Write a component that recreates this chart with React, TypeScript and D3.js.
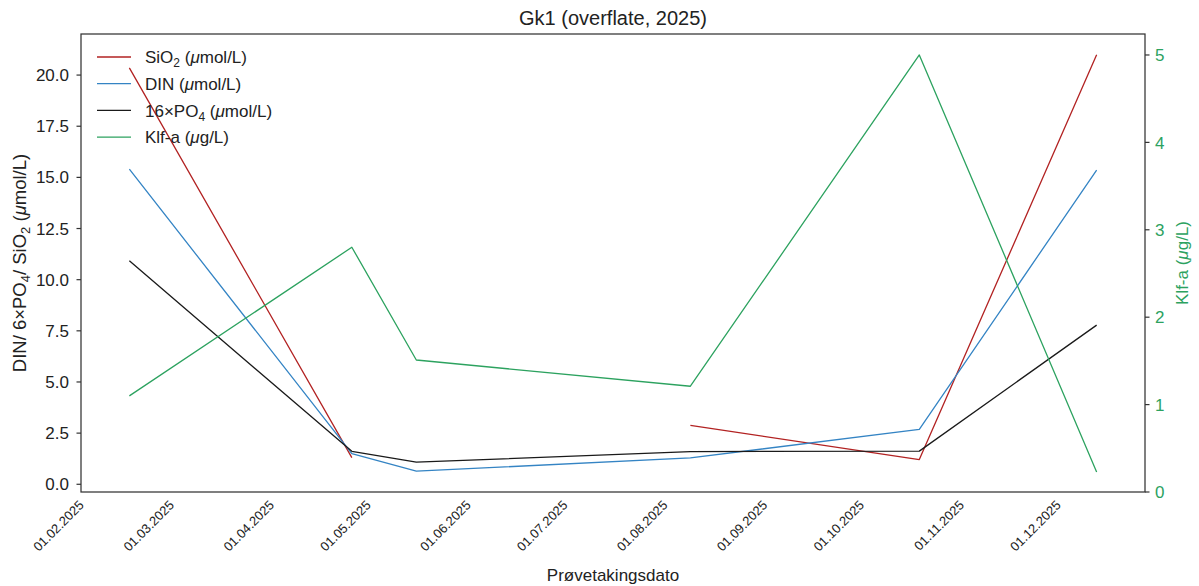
import React from "react";
import * as d3 from "d3";

const dates = ["2025-02-13", "2025-04-23", "2025-05-13", "2025-08-06", "2025-10-16", "2025-12-10"];
const sio2: (number | null)[] = [20.35, 1.3, null, 2.88, 1.21, 20.99];
const din: number[] = [15.4, 1.5, 0.64, 1.29, 2.68, 15.36];
const po4x16: number[] = [10.92, 1.61, 1.08, 1.6, 1.62, 7.78];
const klfa: number[] = [1.1, 2.8, 1.51, 1.21, 5.0, 0.23];
const leftTicks = [0, 2.5, 5, 7.5, 10, 12.5, 15, 17.5, 20];
const rightTicks = [0, 1, 2, 3, 4, 5];
const xTickDates = ["2025-02-01", "2025-03-01", "2025-04-01", "2025-05-01", "2025-06-01", "2025-07-01", "2025-08-01", "2025-09-01", "2025-10-01", "2025-11-01", "2025-12-01"];

const W = 1199, H = 586;
const M = { left: 81, right: 1145, top: 34, bottom: 492 };
const FONT = "'Liberation Sans', Arial, sans-serif";
const AX = "#333333";
const C_SIO2 = "#b22222";
const C_DIN = "#3484c4";
const C_PO4 = "#1a1a1a";
const C_KLF = "#2ca25f";

const parse = d3.utcParse("%Y-%m-%d");
const fmt = d3.utcFormat("%d.%m.%Y");

export default function App() {
  const xs = dates.map((d) => parse(d)!);
  const [x0, x1] = d3.extent(xs) as [Date, Date];
  const span = +x1 - +x0;
  const x = d3.scaleUtc().domain([new Date(+x0 - span * 0.05), new Date(+x1 + span * 0.05)]).range([M.left, M.right]);
  const allLeft = [...din, ...po4x16, ...(sio2.filter((v) => v != null) as number[])];
  const lmin = d3.min(allLeft)!, lmax = d3.max(allLeft)!;
  const lpad = (lmax - lmin) * 0.05;
  const yL = d3.scaleLinear().domain([lmin - lpad, lmax + lpad]).range([M.bottom, M.top]);
  const yR = d3.scaleLinear().domain([0, 5.24]).range([M.bottom, M.top]);

  const mk = (vals: (number | null)[], y: d3.ScaleLinear<number, number>) =>
    d3.line<number | null>()
      .defined((v) => v != null)
      .x((_, i) => x(xs[i]))
      .y((v) => y(v as number))(vals) || "";

  const series = [
    { vals: sio2, y: yL, color: C_SIO2 },
    { vals: din, y: yL, color: C_DIN },
    { vals: po4x16, y: yL, color: C_PO4 },
    { vals: klfa, y: yR, color: C_KLF },
  ];

  const sub = 12;
  const legendRows = [
    { color: C_SIO2, label: <>SiO<tspan dy={4} fontSize={sub}>2</tspan><tspan dy={-4}> (</tspan><tspan fontStyle="italic">μ</tspan>mol/L)</> },
    { color: C_DIN, label: <>DIN (<tspan fontStyle="italic">μ</tspan>mol/L)</> },
    { color: C_PO4, label: <>16×PO<tspan dy={4} fontSize={sub}>4</tspan><tspan dy={-4}> (</tspan><tspan fontStyle="italic">μ</tspan>mol/L)</> },
    { color: C_KLF, label: <>Klf-a (<tspan fontStyle="italic">μ</tspan>g/L)</> },
  ];

  const cy = (M.top + M.bottom) / 2;

  return (
    <svg width={W} height={H} style={{ display: "block", position: "absolute", left: 0, top: 0, background: "#fff" }} fontFamily={FONT}>
      <rect x={0} y={0} width={W} height={H} fill="#fff" />
      <text x={(M.left + M.right) / 2} y={25} textAnchor="middle" fontSize={20} fill="#222">Gk1 (overflate, 2025)</text>

      {series.map((s, i) => (
        <path key={i} d={mk(s.vals, s.y)} fill="none" stroke={s.color} strokeWidth={1.3} strokeLinejoin="round" />
      ))}

      <rect x={M.left} y={M.top} width={M.right - M.left} height={M.bottom - M.top} fill="none" stroke={AX} strokeWidth={1.25} />

      {leftTicks.map((t) => (
        <g key={"l" + t}>
          <line x1={M.left - 4.5} x2={M.left} y1={yL(t)} y2={yL(t)} stroke={AX} strokeWidth={1.2} />
          <text x={M.left - 12} y={yL(t)} dy="0.36em" textAnchor="end" fontSize={17} fill="#222">{t.toFixed(1)}</text>
        </g>
      ))}
      {rightTicks.map((t) => (
        <g key={"r" + t}>
          <line x1={M.right} x2={M.right + 4.5} y1={yR(t)} y2={yR(t)} stroke={AX} strokeWidth={1.2} />
          <text x={M.right + 10} y={yR(t)} dy="0.36em" textAnchor="start" fontSize={17} fill={C_KLF}>{t}</text>
        </g>
      ))}
      {xTickDates.map((d) => {
        const px = x(parse(d)!);
        return (
          <text key={d} transform={`translate(${px - 6},${506}) rotate(-45)`} textAnchor="end" fontSize={13} fill="#222">{fmt(parse(d)!)}</text>
        );
      })}

      <text x={(M.left + M.right) / 2} y={581} textAnchor="middle" fontSize={17} fill="#222">Prøvetakingsdato</text>
      <text transform={`translate(26,${cy}) rotate(-90)`} textAnchor="middle" fontSize={18.5} fill="#222">
        DIN/ 6×PO<tspan dy={4} fontSize={13}>4</tspan><tspan dy={-4}>/ SiO</tspan><tspan dy={4} fontSize={13}>2</tspan><tspan dy={-4}> (</tspan><tspan fontStyle="italic">μ</tspan>mol/L)
      </text>
      <text transform={`translate(1188,${cy}) rotate(-90)`} textAnchor="middle" fontSize={17} fill={C_KLF}>
        Klf-a (<tspan fontStyle="italic">μ</tspan>g/L)
      </text>

      {legendRows.map((r, i) => {
        const y = 57 + i * 26.7;
        return (
          <g key={i}>
            <line x1={97} x2={131} y1={y} y2={y} stroke={r.color} strokeWidth={1.3} />
            <text x={145} y={y} dy="0.36em" fontSize={17} fill="#222">{r.label}</text>
          </g>
        );
      })}
    </svg>
  );
}
